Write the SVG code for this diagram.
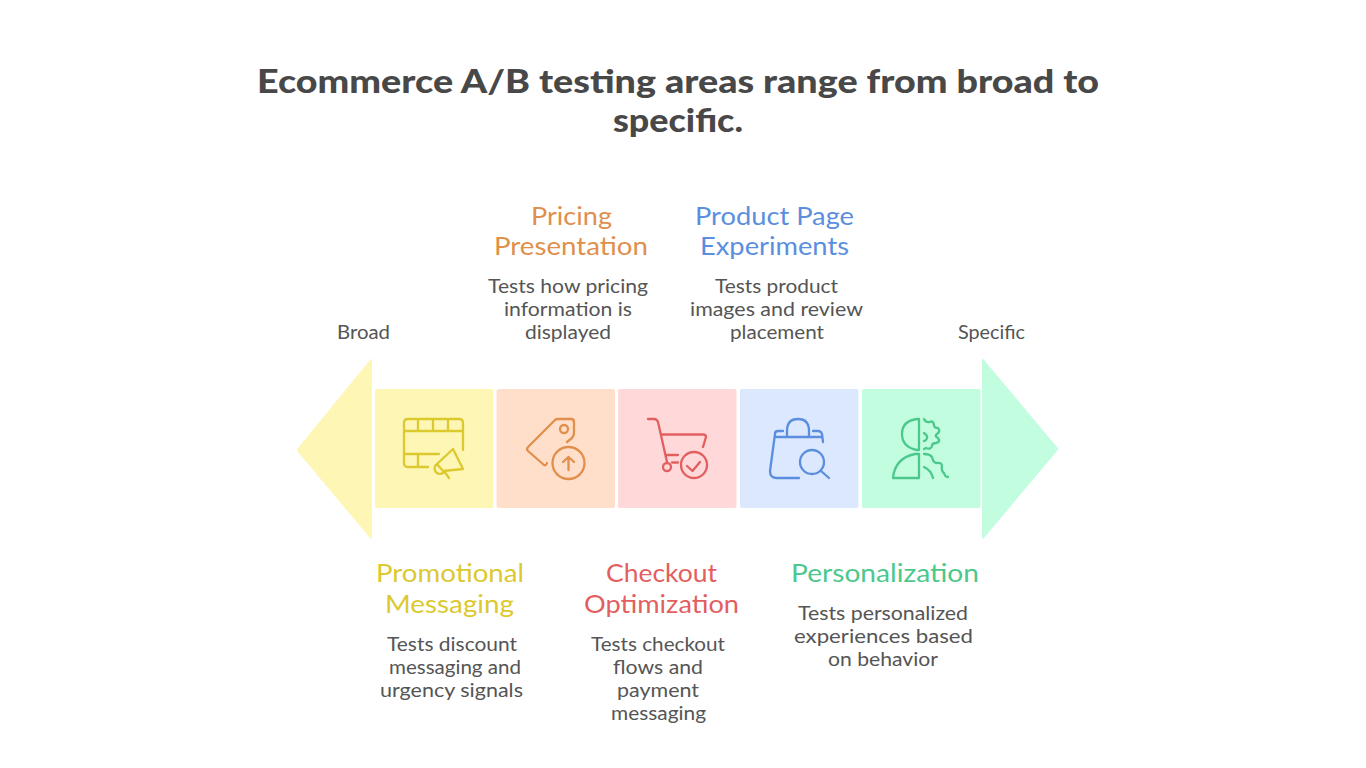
<svg xmlns="http://www.w3.org/2000/svg" width="1366" height="768" viewBox="0 0 1366 768">
<style>
text{font-family:"Lato","Noto Sans","Liberation Sans",sans-serif;text-anchor:start}
.t{font-size:33px;font-weight:900;fill:#484848}
.h{font-size:25px;font-weight:400}
.d{font-size:18.5px;fill:#555}
.i{fill:none;stroke-width:2.3;stroke-linecap:round;stroke-linejoin:round}
.y{fill:#dcc92f}.o{fill:#e08f4c}.r{fill:#e35f5f}.b{fill:#5b8ede}.g{fill:#4cc88c}
</style>
<rect width="1366" height="768" fill="#fff"/>
<g id="title">
<text class="t" x="257" y="93" textLength="842" lengthAdjust="spacingAndGlyphs">Ecommerce A/B testing areas range from broad to</text>
<text class="t" x="613" y="132" textLength="130" lengthAdjust="spacingAndGlyphs">specific.</text>
</g>
<g id="axis-labels">
<text class="d" x="337" y="339" textLength="53" lengthAdjust="spacingAndGlyphs">Broad</text>
<text class="d" x="958" y="339" textLength="67" lengthAdjust="spacingAndGlyphs">Specific</text>
</g>
<g id="arrow-left"><path d="M372 360 L372 538 Q372 540 370 538 L298 452 Q296 450 298 448 L370 360 Q372 358 372 360Z" fill="#fef6b5"/></g>
<g id="arrow-right"><path d="M982 360 L982 537 Q982 540 984 538 L1057 451 Q1059 449 1057 447 L984 360 Q982 357 982 360Z" fill="#c3fde0"/></g>
<g id="promotional-messaging">
<rect x="375" y="389" width="118.500" height="119" rx="2" fill="#fef6b5"/>
<g class="i" stroke="#dcc92f">
<path d="M463 450V423Q463 419 459 419H408Q404 419 404 423V463Q404 467 408 467H428M404 431H463M404 454H439M418 419V431M433 419V431M448 419V431M418 454V467"/>
<path d="M437 464L453 449L463 469L443 471ZM437 464A5 5 0 0 0 443 473M444 471L449 478"/>
</g>
<text class="h y" x="376" y="582" textLength="148" lengthAdjust="spacingAndGlyphs">Promotional</text>
<text class="h y" x="385" y="613" textLength="129" lengthAdjust="spacingAndGlyphs">Messaging</text>
<text class="d" x="387" y="651" textLength="130" lengthAdjust="spacingAndGlyphs">Tests discount</text>
<text class="d" x="389" y="674" textLength="132" lengthAdjust="spacingAndGlyphs">messaging and</text>
<text class="d" x="380" y="697" textLength="143" lengthAdjust="spacingAndGlyphs">urgency signals</text>
</g>
<g id="pricing-presentation">
<rect x="496.500" y="389" width="118.500" height="119" rx="2" fill="#ffdfc9"/>
<g class="i" stroke="#e08f4c">
<path d="M547 463Q546 466 544 465L528 451Q526 449 528 447L555 420Q556 419 558 419H571Q574 419 574 422V433Q574 436 572 438L567 442"/>
<circle cx="564" cy="429" r="4"/>
<circle cx="568.500" cy="463" r="16"/>
<path d="M568.500 470V457M563 462L568.500 457L574 462"/>
</g>
<text class="h o" x="531" y="225" textLength="81" lengthAdjust="spacingAndGlyphs">Pricing</text>
<text class="h o" x="494" y="255" textLength="154" lengthAdjust="spacingAndGlyphs">Presentation</text>
<text class="d" x="488" y="293" textLength="160" lengthAdjust="spacingAndGlyphs">Tests how pricing</text>
<text class="d" x="504" y="316" textLength="128" lengthAdjust="spacingAndGlyphs">information is</text>
<text class="d" x="525" y="339" textLength="86" lengthAdjust="spacingAndGlyphs">displayed</text>
</g>
<g id="checkout-optimization">
<rect x="618" y="389" width="118.500" height="119" rx="2" fill="#ffd9d9"/>
<g class="i" stroke="#e35f5f">
<path d="M648 419H654Q657 419 658 422L667 462M662 434.500H703Q706 434.500 706 437L703 447M667 455H678M672 462.500H678"/>
<circle cx="667" cy="467" r="4"/>
<circle cx="694" cy="465" r="13"/>
<path d="M687 466L692.500 471L700 462"/>
</g>
<text class="h r" x="606" y="582" textLength="111" lengthAdjust="spacingAndGlyphs">Checkout</text>
<text class="h r" x="584" y="613" textLength="155" lengthAdjust="spacingAndGlyphs">Optimization</text>
<text class="d" x="591" y="651" textLength="134" lengthAdjust="spacingAndGlyphs">Tests checkout</text>
<text class="d" x="613" y="674" textLength="90" lengthAdjust="spacingAndGlyphs">flows and</text>
<text class="d" x="617" y="697" textLength="82" lengthAdjust="spacingAndGlyphs">payment</text>
<text class="d" x="611" y="720" textLength="95" lengthAdjust="spacingAndGlyphs">messaging</text>
</g>
<g id="product-page-experiments">
<rect x="740" y="389" width="118.500" height="119" rx="2" fill="#dbe8fe"/>
<g class="i" stroke="#5b8ede">
<path d="M783 431H778Q775 431 775 434L770 471Q770 478 777 478H799M776 437H822M787 437V431Q787 419 798 419Q809 419 809 431V437M813 431H818Q821 431 822 434L823 442"/>
<circle cx="812" cy="462" r="12"/>
<path d="M821 471L829 478"/>
</g>
<text class="h b" x="695" y="225" textLength="159" lengthAdjust="spacingAndGlyphs">Product Page</text>
<text class="h b" x="700" y="255" textLength="149" lengthAdjust="spacingAndGlyphs">Experiments</text>
<text class="d" x="715" y="293" textLength="123" lengthAdjust="spacingAndGlyphs">Tests product</text>
<text class="d" x="690" y="316" textLength="173" lengthAdjust="spacingAndGlyphs">images and review</text>
<text class="d" x="730" y="339" textLength="94" lengthAdjust="spacingAndGlyphs">placement</text>
</g>
<g id="personalization">
<rect x="862" y="389" width="118.500" height="119" rx="2" fill="#c3fde0"/>
<g class="i" stroke="#4cc88c">
<path d="M919 419V450H917Q902 447 902 434Q902 421 917 419ZM919 454V478H893Q895 458 915 454Z"/>
<path d="M924 419Q926 423 930 422Q933 420 934 425Q934 428 938 428Q941 431 937 434Q934 436 938 438Q941 442 936 443Q932 443 932 446Q931 450 926 448L924 449M924 433Q928 436 927 438Q926 441 924 441M924 454Q930 454 932 457Q933 462 936 463Q942 462 942 466Q941 471 944 473Q945 477 948 477M924 467Q931 470 933 478"/>
</g>
<text class="h g" x="791" y="582" textLength="188" lengthAdjust="spacingAndGlyphs">Personalization</text>
<text class="d" x="798" y="620" textLength="170" lengthAdjust="spacingAndGlyphs">Tests personalized</text>
<text class="d" x="794" y="643" textLength="179" lengthAdjust="spacingAndGlyphs">experiences based</text>
<text class="d" x="828" y="666" textLength="110" lengthAdjust="spacingAndGlyphs">on behavior</text>
</g>
</svg>
